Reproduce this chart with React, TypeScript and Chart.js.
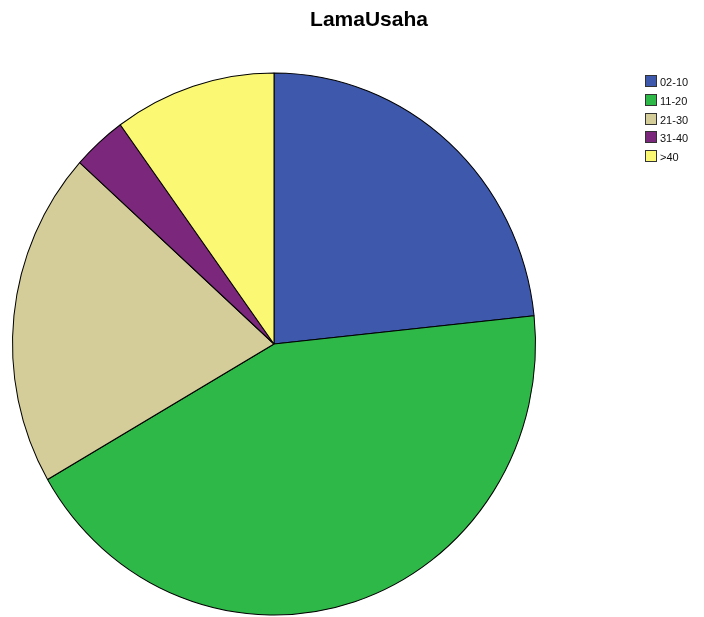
import React, { useEffect, useRef } from "react";
import { Chart, registerables } from "chart.js";

Chart.register(...registerables);

const TITLE = "LamaUsaha";
const CATEGORIES = ["02-10", "11-20", "21-30", "31-40", ">40"];
const COUNTS = [7, 13, 6, 1, 3];
const COLORS = ["#3e58ac", "#2eb848", "#d4cd99", "#7b287c", "#fbf873"];

const W = 704;
const H = 617;
const Y_STRETCH = 271 / 261.5;

const ellipsePlugin = {
  id: "ellipse",
  beforeDatasetsDraw(chart: any) {
    const arc = chart.getDatasetMeta(0).data[0];
    const ctx = chart.ctx;
    ctx.save();
    ctx.translate(arc.x, arc.y);
    ctx.scale(1, Y_STRETCH);
    ctx.translate(-arc.x, -arc.y);
  },
  afterDatasetsDraw(chart: any) {
    chart.ctx.restore();
  },
};

const overlayPlugin = {
  id: "overlay",
  afterDraw(chart: any) {
    const ctx = chart.ctx;
    ctx.save();
    ctx.fillStyle = "#000";
    ctx.font = "bold 21px 'Liberation Sans', Arial, sans-serif";
    ctx.textAlign = "center";
    ctx.textBaseline = "alphabetic";
    ctx.fillText(TITLE, 369, 26);

    ctx.font = "11px 'Liberation Sans', Arial, sans-serif";
    ctx.textAlign = "left";
    const labels = chart.data.labels as string[];
    const colors = chart.data.datasets[0].backgroundColor as string[];
    labels.forEach((lab, i) => {
      const top = Math.round(75 + i * 18.75);
      ctx.fillStyle = colors[i];
      ctx.fillRect(645.5, top + 0.5, 11, 11);
      ctx.strokeStyle = "#333";
      ctx.lineWidth = 1;
      ctx.strokeRect(645.5, top + 0.5, 11, 11);
      ctx.fillStyle = "#111";
      ctx.fillText(lab, 660, top + 11);
    });
    ctx.restore();
  },
};

export default function App() {
  const ref = useRef<HTMLCanvasElement | null>(null);
  useEffect(() => {
    document.body.style.margin = "0";
    document.documentElement.style.overflow = "hidden";
    if (!ref.current) return;
    const chart = new Chart(ref.current, {
      type: "pie",
      data: {
        labels: CATEGORIES,
        datasets: [
          {
            data: COUNTS,
            backgroundColor: COLORS,
            borderColor: "#000",
            borderWidth: 1,
            hoverOffset: 0,
            clip: false,
          } as any,
        ],
      },
      options: {
        animation: false,
        responsive: false,
        radius: 261.5,
        layout: { padding: { top: 71, left: 11, right: 167, bottom: 0 } },
        plugins: {
          legend: { display: false },
          title: { display: false },
          tooltip: { enabled: false },
        },
      } as any,
      plugins: [ellipsePlugin, overlayPlugin],
    });
    return () => chart.destroy();
  }, []);
  return (
    <canvas
      ref={ref}
      width={W}
      height={H}
      style={{ display: "block", width: W, height: H }}
    />
  );
}
